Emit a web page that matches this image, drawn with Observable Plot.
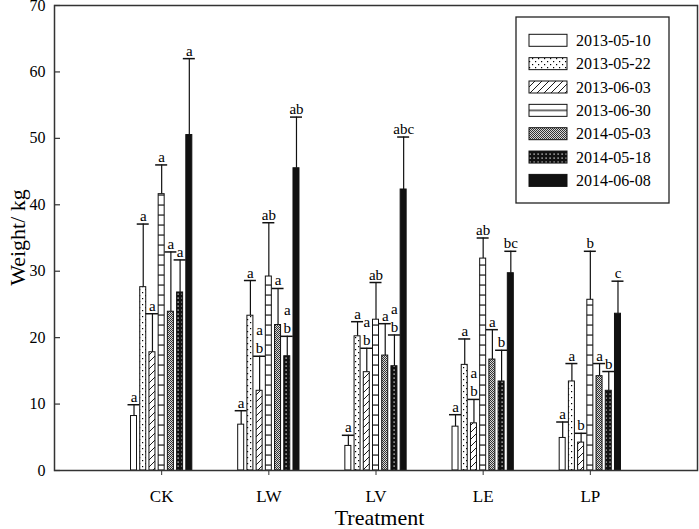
<!DOCTYPE html>
<html><head><meta charset="utf-8">
<script src="https://cdn.jsdelivr.net/npm/d3@7"></script>
<script src="https://cdn.jsdelivr.net/npm/@observablehq/plot@0.6"></script>
<style>body{margin:0;background:#fff} svg{display:block}</style>
</head><body><div id="chart"></div>
<script>
// ---- data ----
const groups = ["CK", "LW", "LV", "LE", "LP"];
const dates = ["2013-05-10", "2013-05-22", "2013-06-03", "2013-06-30", "2014-05-03", "2014-05-18", "2014-06-08"];
const yTicks = [0, 10, 20, 30, 40, 50, 60, 70];

const mean_20130510 = [8.2, 6.9, 3.7, 6.6, 4.9];
const mean_20130522 = [27.6, 23.3, 20.2, 15.9, 13.4];
const mean_20130603 = [17.8, 12.0, 14.8, 7.1, 4.2];
const mean_20130630 = [41.6, 29.2, 22.7, 31.9, 25.7];
const mean_20140503 = [23.9, 21.9, 17.3, 16.7, 14.2];
const mean_20140518 = [26.8, 17.2, 15.7, 13.4, 12.0];
const mean_20140608 = [50.5, 45.5, 42.3, 29.7, 23.6];

const err_20130510 = [1.7, 2.1, 1.6, 1.8, 2.4];
const err_20130522 = [9.5, 5.3, 2.2, 3.9, 2.7];
const err_20130603 = [5.8, 5.2, 3.6, 3.6, 1.4];
const err_20130630 = [4.4, 8.1, 5.6, 3.1, 7.3];
const err_20140503 = [9.0, 5.5, 4.8, 4.5, 1.9];
const err_20140518 = [4.9, 3.0, 4.7, 4.7, 2.9];
const err_20140608 = [11.5, 7.7, 7.9, 3.3, 4.9];

const lab_20130510 = ["a", "a", "a", "a", "a"];
const lab_20130522 = ["a", "a", "a", "a", "a"];
const lab_20130603 = ["a", "a\nb", "a\nb", "a\nb", "b"];
const lab_20130630 = ["a", "ab", "ab", "ab", "b"];
const lab_20140503 = ["a", "a", "a", "a", "a"];
const lab_20140518 = ["a", "a\nb", "a\nb", "b", "b"];
const lab_20140608 = ["a", "ab", "abc", "bc", "c"];

const yTitle = "Weight/ kg";
const xTitle = "Treatment";

const means = [mean_20130510, mean_20130522, mean_20130603, mean_20130630, mean_20140503, mean_20140518, mean_20140608];
const errs = [err_20130510, err_20130522, err_20130603, err_20130630, err_20140503, err_20140518, err_20140608];
const labs = [lab_20130510, lab_20130522, lab_20130603, lab_20130630, lab_20140503, lab_20140518, lab_20140608];

const rows = [];
dates.forEach((date, j) => groups.forEach((g, i) => rows.push({
  group: g, gi: i + 1, j, date, mean: means[j][i], err: errs[j][i], label: labs[j][i]
})));

// ---- layout / style ----
const W = 699, H = 529, ML = 54, MR = 2, MT = 5, MB = 59;
const PITCH = 0.086, HALF_W = 0.028, CAP_HALF = 0.056;
const xc = d => d.gi + (d.j - 3) * PITCH;
const fills = ["white", "url(#pat1)", "url(#pat2)", "url(#pat3)", "url(#pat4)", "url(#pat5)", "#111"];
const AX = "#333";
const FONT = "'Liberation Serif', 'Times New Roman', serif";

const barMarks = dates.map((date, j) => Plot.rect(rows.filter(r => r.j === j), {
  x1: d => xc(d) - HALF_W, x2: d => xc(d) + HALF_W, y1: 0, y2: "mean",
  fill: fills[j], stroke: "#111", strokeWidth: 1
}));

const svg = Plot.plot({
  width: W, height: H,
  marginLeft: ML, marginRight: MR, marginTop: MT, marginBottom: MB,
  style: {fontFamily: FONT, fontSize: "16px", color: "#000", background: "#fff"},
  x: {domain: [0, 6]},
  y: {domain: [0, 70]},
  marks: [
    Plot.axisY({ticks: yTicks, tickSize: 0, tickPadding: 9, fontSize: 16, label: null, fill: "#000"}),
    Plot.tickY(yTicks, {y: d => d, insetRight: W - ML - MR - 6, stroke: AX, strokeWidth: 1.2}),
    Plot.axisX({ticks: [1, 2, 3, 4, 5], tickFormat: i => groups[i - 1], tickSize: 5, tickPadding: 14, fontSize: 17, label: null, stroke: AX, fill: "#000"}),
    Plot.ruleX(rows, {x: xc, y1: "mean", y2: d => d.mean + d.err, stroke: "#111", strokeWidth: 1.2}),
    Plot.ruleY(rows, {y: d => d.mean + d.err, x1: d => xc(d) - CAP_HALF, x2: d => xc(d) + CAP_HALF, stroke: "#111", strokeWidth: 1.5}),
    ...barMarks,
    Plot.text(rows, {x: xc, y: d => d.mean + d.err, text: "label", lineAnchor: "bottom", dy: -3, fontSize: 15, lineHeight: 1.2, fill: "#000"}),
    Plot.frame({stroke: AX, strokeWidth: 1.5})
  ]
});

// ---- patterns ----
const s = d3.select(svg);
const defs = s.insert("defs", ":first-child");
function pat(id, w, h, bg, extra, y0 = 0) {
  const p = defs.append("pattern").attr("id", id).attr("patternUnits", "userSpaceOnUse")
    .attr("width", w).attr("height", h).attr("x", 0).attr("y", y0);
  p.append("rect").attr("width", w).attr("height", h).attr("fill", bg);
  extra(p);
}
pat("pat1", 6, 6, "white", p => {
  p.append("rect").attr("x", 1).attr("y", 1).attr("width", 1.2).attr("height", 1.2).attr("fill", "#000");
  p.append("rect").attr("x", 4).attr("y", 4).attr("width", 1.2).attr("height", 1.2).attr("fill", "#000");
});
pat("pat2", 7, 7, "white", p => {
  p.append("path").attr("d", "M0,7L7,0M-1,1L1,-1M6,8L8,6").attr("stroke", "#000").attr("stroke-width", 0.9);
});
pat("pat3", 10, 10, "white", p => {
  p.append("rect").attr("x", 0).attr("y", 4.5).attr("width", 10).attr("height", 1.1).attr("fill", "#000");
});
pat("pat4", 2, 2, "#d8d8d8", p => {
  p.append("rect").attr("x", 0).attr("y", 0).attr("width", 1).attr("height", 1).attr("fill", "#333");
  p.append("rect").attr("x", 1).attr("y", 1).attr("width", 1).attr("height", 1).attr("fill", "#333");
});
pat("pat5", 4, 4, "#111", p => {
  p.append("rect").attr("x", 1.5).attr("y", 1.5).attr("width", 1.2).attr("height", 1.2).attr("fill", "#fff");
});

// ---- axis titles ----
s.append("text").attr("transform", `translate(17,${MT + (H - MT - MB) / 2}) rotate(-90)`)
  .attr("text-anchor", "middle").attr("dy", "0.35em").attr("font-size", 22)
  .attr("font-family", FONT).attr("fill", "#000").text(yTitle);
s.append("text").attr("x", ML + (W - ML - MR) / 2 + 4).attr("y", H - 11)
  .attr("text-anchor", "middle").attr("dy", "0.32em").attr("font-size", 22)
  .attr("font-family", FONT).attr("fill", "#000").text(xTitle);

// ---- legend ----
const lg = s.append("g").attr("font-family", FONT);
lg.append("rect").attr("x", 516).attr("y", 17).attr("width", 153).attr("height", 186)
  .attr("fill", "white").attr("stroke", "#222").attr("stroke-width", 1.3);
dates.forEach((date, j) => {
  const cy = 40.3 + j * 23.35;
  if (j === 3) {
    pat("pat3L", 10, 10, "white", p => {
      p.append("rect").attr("x", 0).attr("y", 4.5).attr("width", 10).attr("height", 1.1).attr("fill", "#000");
    }, cy - 5);
  }
  lg.append("rect").attr("x", 529).attr("y", cy - 6).attr("width", 38).attr("height", 12)
    .attr("fill", j === 3 ? "url(#pat3L)" : fills[j]).attr("stroke", "#111").attr("stroke-width", 1);
  lg.append("text").attr("x", 576).attr("y", cy).attr("dy", "0.35em").attr("text-anchor", "start")
    .attr("font-size", 16).attr("fill", "#000").text(date);
});

document.getElementById("chart").appendChild(svg);
</script>
</body></html>
